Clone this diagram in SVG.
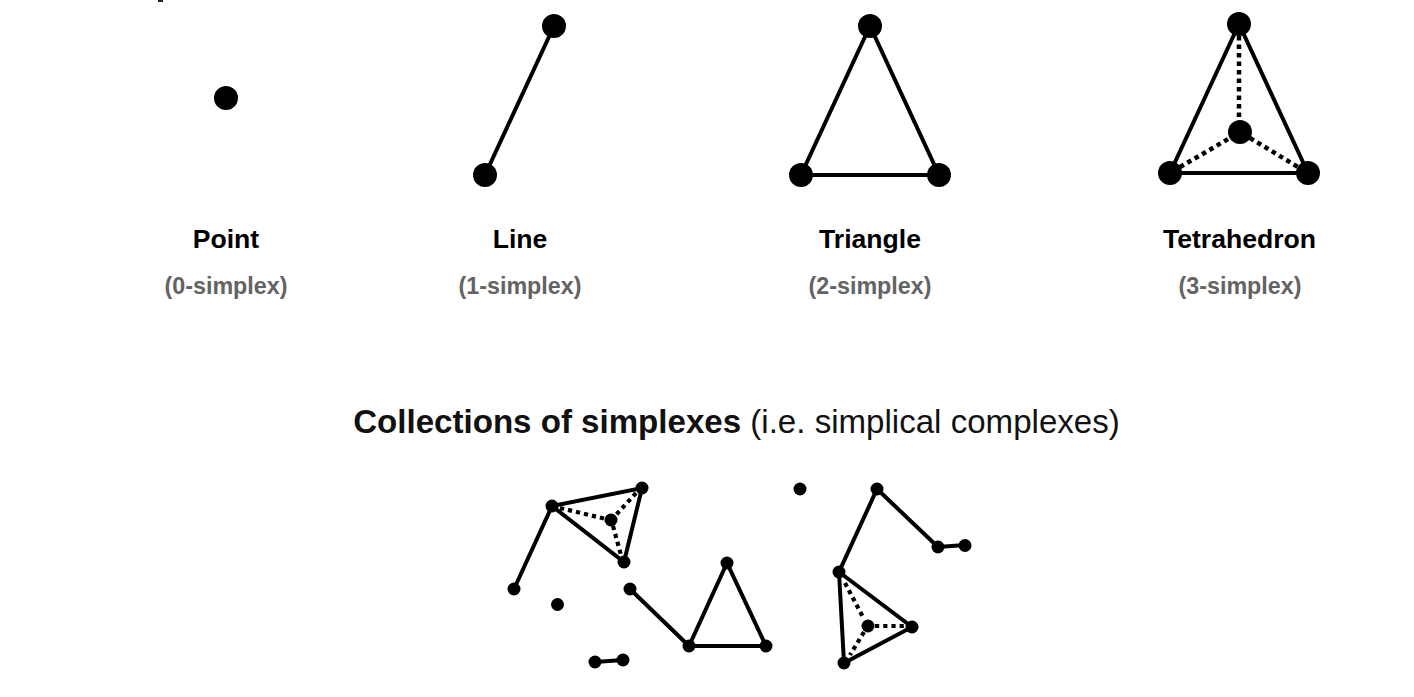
<svg xmlns="http://www.w3.org/2000/svg" width="1414" height="697" viewBox="0 0 1414 697">
<style>
.s{fill:none;stroke:#000;stroke-width:4}
.t{fill:none;stroke:#000;stroke-width:4}
.d{fill:none;stroke:#000;stroke-width:4.500;stroke-dasharray:4.500 4}
.e{fill:none;stroke:#000;stroke-width:4.200;stroke-dasharray:4.200 4}
text{font-family:"Liberation Sans",Arial,sans-serif;text-anchor:middle}
.h{font-size:26.600px;font-weight:700;fill:#000}
.g{font-size:23.300px;font-weight:700;fill:#636363}
</style>
<rect width="1414" height="697" fill="#fff"/>
<rect x="158" y="0" width="5" height="2" fill="#222"/>
<g id="connectors">
<path class="s" d="M485 175L554 26"/>
<path class="s" d="M870 26L801 175H939Z"/>
<path class="s" d="M1239 24L1170 173H1308Z"/>
<path class="d" d="M1239 36V120M1180 167L1230 138M1250 138L1298 167"/>
<path class="t" d="M514 589L552 506L642 488L624 562L552 506"/>
<path class="e" d="M560 508L606 519M636 493L615 516M613 526L621 555"/>
<path class="t" d="M630 589L689 646L727 563L766 646H689"/>
<path class="t" d="M595 662L623 660"/>
<path class="t" d="M938 547L877 489L839 572L844 663L912 627L839 572"/>
<path class="e" d="M845 583L864 619M864 632L850 655M875 626H908"/>
<path class="t" d="M938 547L965 545"/>
</g>
<g id="n-point"><circle cx="226" cy="98" r="12"/><text class="h" x="226" y="247.500">Point</text><text class="g" x="226" y="294">(0-simplex)</text></g>
<g id="n-line"><circle cx="485" cy="175" r="12"/><circle cx="554" cy="26" r="12"/><text class="h" x="520" y="247.500">Line</text><text class="g" x="520" y="294">(1-simplex)</text></g>
<g id="n-triangle"><circle cx="870" cy="26" r="12"/><circle cx="801" cy="175" r="12"/><circle cx="939" cy="175" r="12"/><text class="h" x="870" y="247.500">Triangle</text><text class="g" x="870" y="294">(2-simplex)</text></g>
<g id="n-tetrahedron"><circle cx="1239" cy="24" r="12"/><circle cx="1240" cy="132" r="12"/><circle cx="1170" cy="173" r="12"/><circle cx="1308" cy="173" r="12"/><text class="h" x="1239.500" y="247.500">Tetrahedron</text><text class="g" x="1240" y="294">(3-simplex)</text></g>
<g id="n-title"><text x="736.500" y="433" font-size="33.100" fill="#111"><tspan font-weight="700">Collections of simplexes</tspan> (i.e. simplical complexes)</text></g>
<g id="n-collection">
<circle cx="552" cy="506" r="6.500"/><circle cx="642" cy="488" r="6.500"/><circle cx="611" cy="520" r="6.500"/><circle cx="624" cy="562" r="6.500"/><circle cx="514" cy="589" r="6.500"/><circle cx="557.500" cy="604.500" r="6.500"/><circle cx="630" cy="589" r="6.500"/><circle cx="595" cy="662" r="6.500"/><circle cx="623" cy="660" r="6.500"/><circle cx="689" cy="646" r="6.500"/><circle cx="727" cy="563" r="6.500"/><circle cx="766" cy="646" r="6.500"/>
<circle cx="800" cy="489" r="6.500"/><circle cx="877" cy="489" r="6.500"/><circle cx="938" cy="547" r="6.500"/><circle cx="965" cy="545.500" r="6.500"/><circle cx="839" cy="572" r="6.500"/><circle cx="868" cy="626" r="6.500"/><circle cx="912" cy="627" r="6.500"/><circle cx="844" cy="663" r="6.500"/>
</g>
</svg>
